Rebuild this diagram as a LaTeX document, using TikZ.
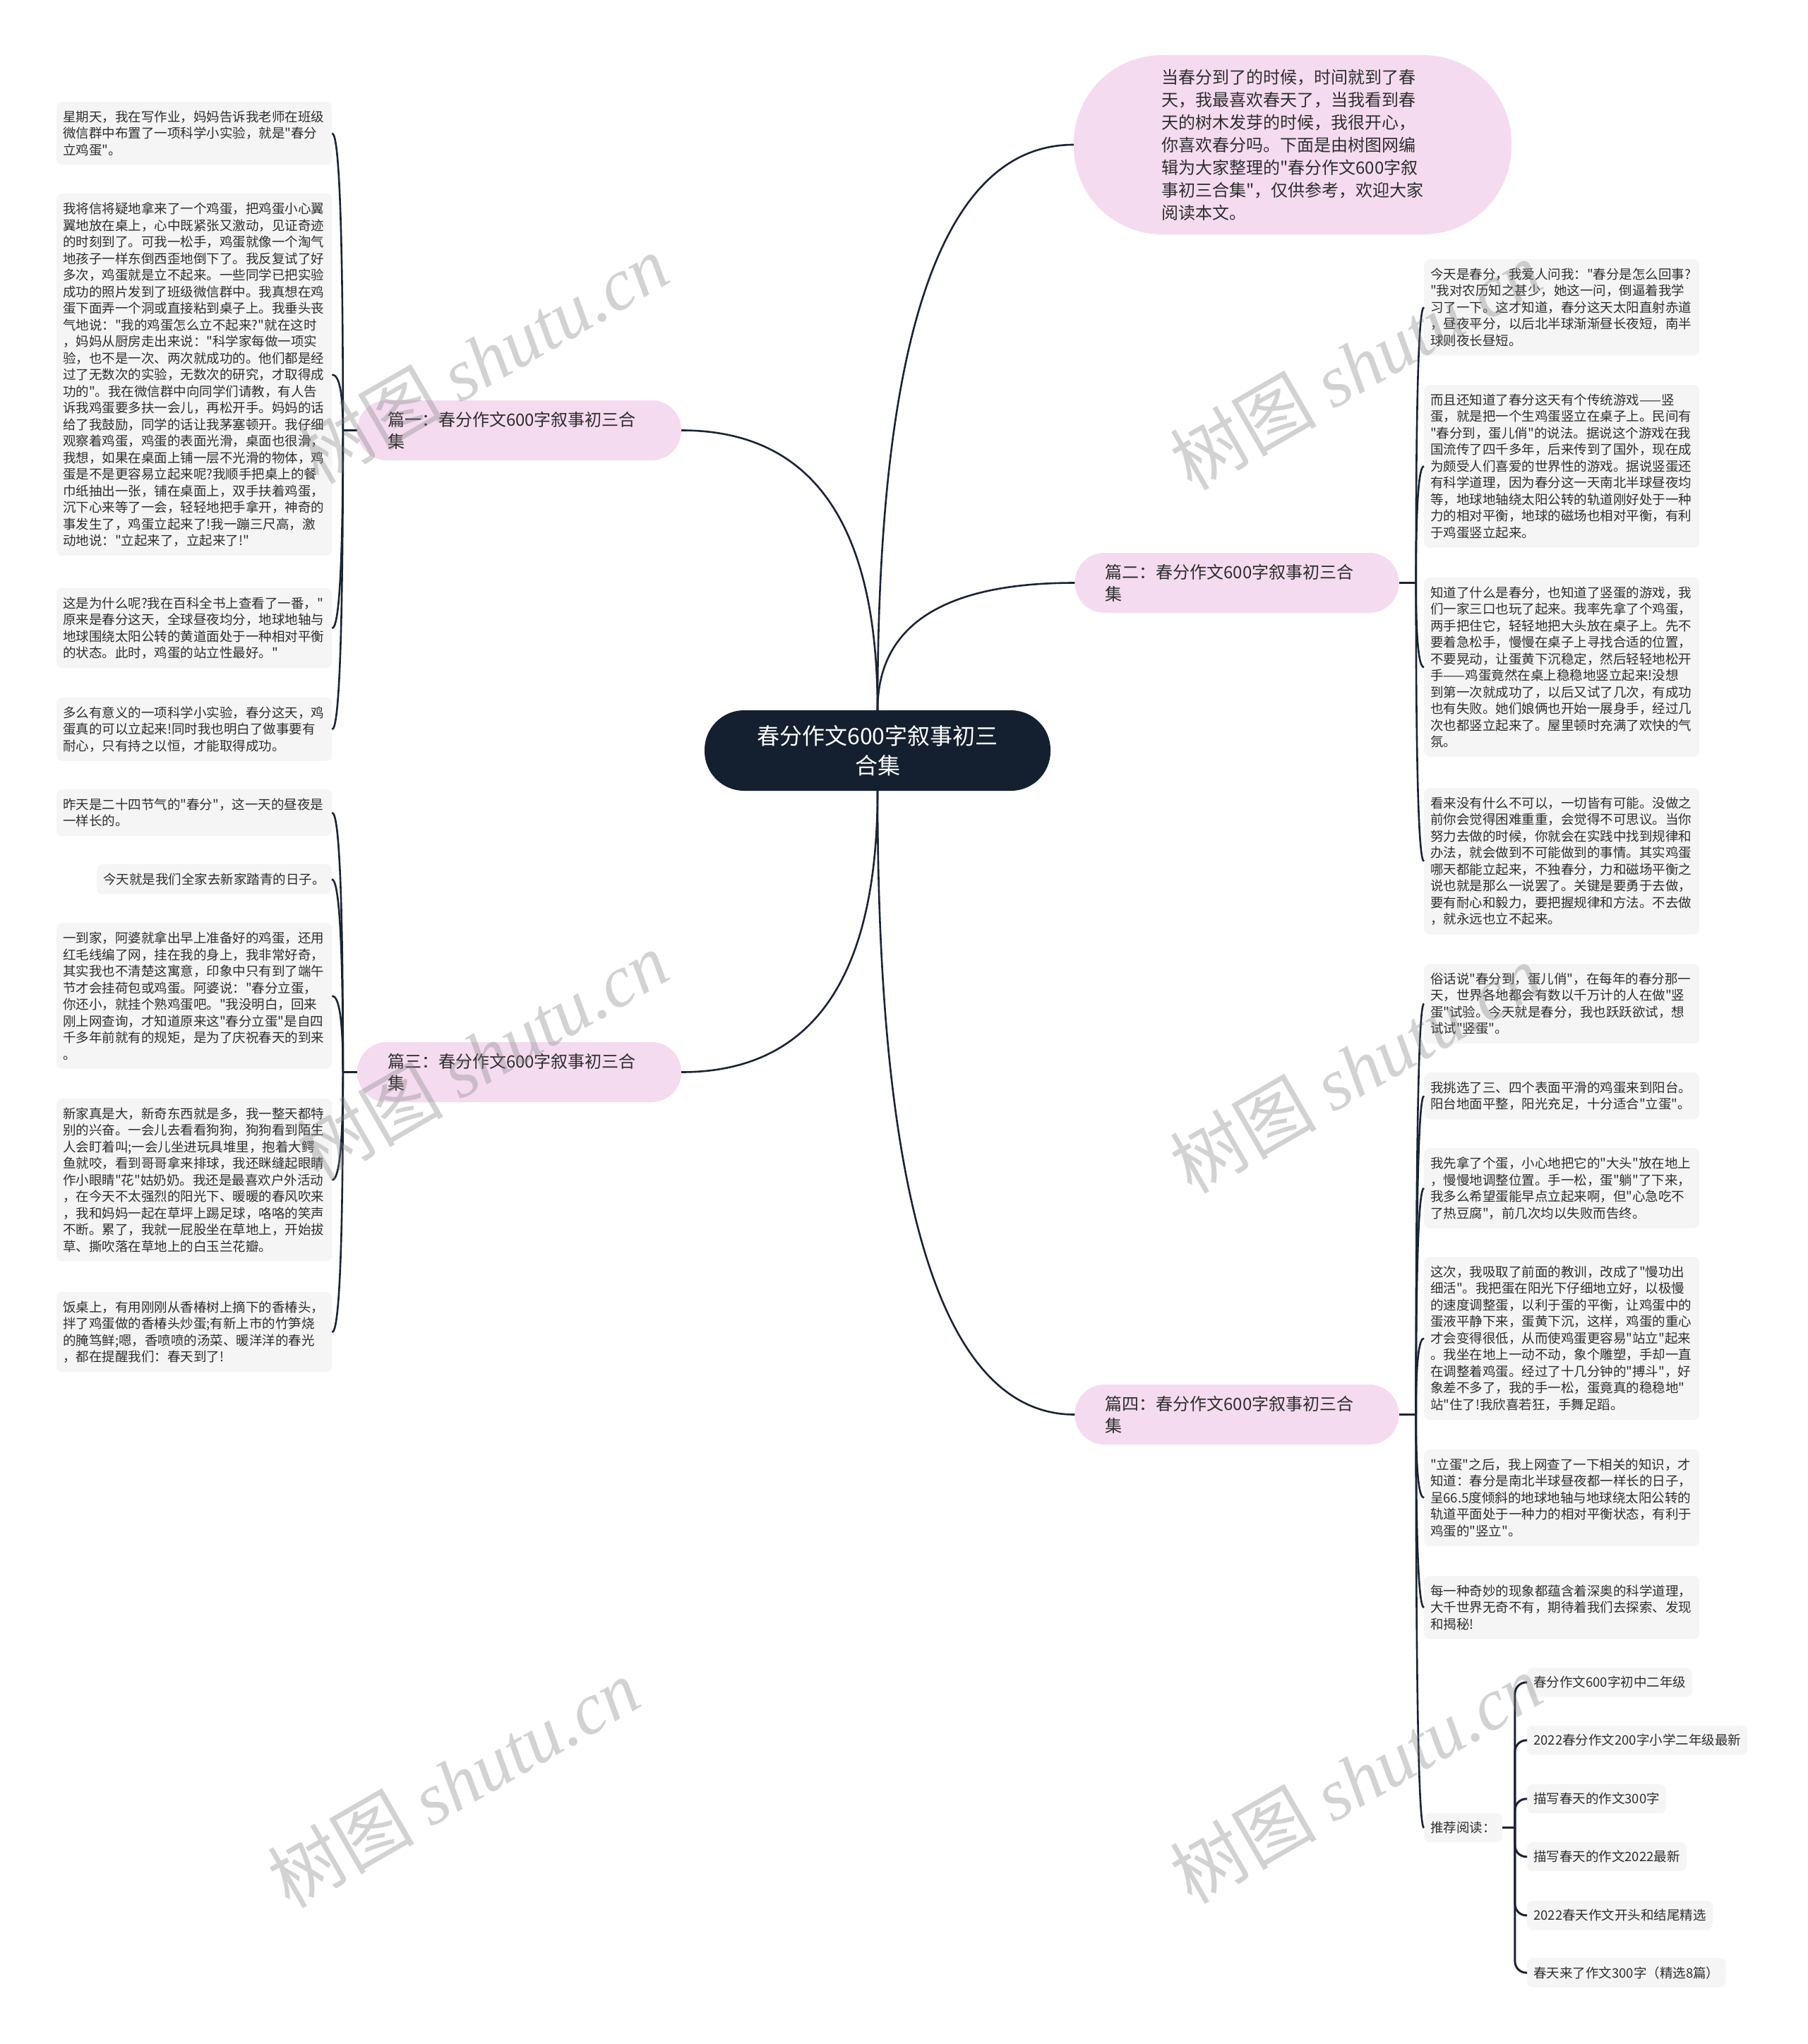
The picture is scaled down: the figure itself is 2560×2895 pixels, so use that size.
\documentclass[tikz,border=0pt]{standalone}
\usepackage{fontspec}
\newfontfamily\cjk{Noto Sans CJK SC}
\newfontfamily\wmlatin{Liberation Serif}
\usetikzlibrary{calc}
\definecolor{linec}{HTML}{1B2433}
\definecolor{pinkc}{HTML}{F5DBEF}
\definecolor{boxc}{HTML}{F5F5F5}
\definecolor{darkc}{HTML}{142030}
\definecolor{txtc}{HTML}{2E2E2E}
\newcommand\vcurve[2]{%
  \path (#1 |- #2) coordinate (vcK);
  \draw[conn] (#1) .. controls ($(#1)!0.6667!(vcK)$) and ($(#2)!0.6667!(vcK)$) .. (#2);
}
\tikzset{
  conn/.style={draw=linec, line width=2.6pt},
  leaf/.style={fill=boxc, rounded corners=8pt, text=txtc, font=\cjk\fontsize{18.5}{23.5}\selectfont, inner xsep=9pt, inner ysep=12.5pt, align=left},
  leafw/.style={leaf, text width=372pt, anchor=north west},
  subitem/.style={leaf, inner ysep=12pt, anchor=north west},
  branch/.style={fill=pinkc, rounded corners=42pt, text=txtc, font=\cjk\fontsize{24}{31}\selectfont, minimum height=85pt, text width=373pt, inner xsep=43pt, align=left},
  wm/.style={rotate=30, text=gray, opacity=0.35, font=\cjk\fontsize{104}{104}\selectfont, inner sep=0pt},
}
\begin{document}
\cjk
\begin{tikzpicture}[x=1pt,y=-1pt]
\useasboundingbox (0,0) rectangle (2560,2895);
\fill[white] (0,0) rectangle (2560,2895);

% center
\node[fill=darkc, text=white, rounded corners=56pt, minimum width=490pt, minimum height=114pt, align=center, font=\cjk\fontsize{32}{42}\selectfont] (c) at (1243,1063) {春分作文600字叙事初三\\合集};

% intro
\node[fill=pinkc, rounded corners=125pt, minimum width=620pt, minimum height=254pt, text width=372pt, inner xsep=124pt, align=left, text=txtc, font=\cjk\fontsize{24}{32}\selectfont] (intro) at (1831,205) {当春分到了的时候，时间就到了春\\
天，我最喜欢春天了，当我看到春\\
天的树木发芽的时候，我很开心，\\
你喜欢春分吗。下面是由树图网编\\
辑为大家整理的"春分作文600字叙\\
事初三合集"，仅供参考，欢迎大家\\
阅读本文。};

% branches
\node[branch] (b1) at (735.5,609.5) {篇一：春分作文600字叙事初三合\\集};
\node[branch] (b2) at (1752,825.5) {篇二：春分作文600字叙事初三合\\集};
\node[branch] (b3) at (735.5,1518.5) {篇三：春分作文600字叙事初三合\\集};
\node[branch] (b4) at (1752,2003.5) {篇四：春分作文600字叙事初三合\\集};

% left group 1
\node[leafw] (l1) at (80,144) {星期天，我在写作业，妈妈告诉我老师在班级\\
微信群中布置了一项科学小实验，就是"春分\\
立鸡蛋"。};
\node[leafw] (l2) at (80,274) {我将信将疑地拿来了一个鸡蛋，把鸡蛋小心翼\\
翼地放在桌上，心中既紧张又激动，见证奇迹\\
的时刻到了。可我一松手，鸡蛋就像一个淘气\\
地孩子一样东倒西歪地倒下了。我反复试了好\\
多次，鸡蛋就是立不起来。一些同学已把实验\\
成功的照片发到了班级微信群中。我真想在鸡\\
蛋下面弄一个洞或直接粘到桌子上。我垂头丧\\
气地说："我的鸡蛋怎么立不起来?"就在这时\\
，妈妈从厨房走出来说："科学家每做一项实\\
验，也不是一次、两次就成功的。他们都是经\\
过了无数次的实验，无数次的研究，才取得成\\
功的"。我在微信群中向同学们请教，有人告\\
诉我鸡蛋要多扶一会儿，再松开手。妈妈的话\\
给了我鼓励，同学的话让我茅塞顿开。我仔细\\
观察着鸡蛋，鸡蛋的表面光滑，桌面也很滑，\\
我想，如果在桌面上铺一层不光滑的物体，鸡\\
蛋是不是更容易立起来呢?我顺手把桌上的餐\\
巾纸抽出一张，铺在桌面上，双手扶着鸡蛋，\\
沉下心来等了一会，轻轻地把手拿开，神奇的\\
事发生了，鸡蛋立起来了!我一蹦三尺高，激\\
动地说："立起来了，立起来了!"};
\node[leafw] (l3) at (80,833) {这是为什么呢?我在百科全书上查看了一番，"\\
原来是春分这天，全球昼夜均分，地球地轴与\\
地球围绕太阳公转的黄道面处于一种相对平衡\\
的状态。此时，鸡蛋的站立性最好。"};
\node[leafw] (l4) at (80,988) {多么有意义的一项科学小实验，春分这天，鸡\\
蛋真的可以立起来!同时我也明白了做事要有\\
耐心，只有持之以恒，才能取得成功。};

% left group 3
\node[leafw] (m1) at (80,1118) {昨天是二十四节气的"春分"，这一天的昼夜是\\
一样长的。};
\node[leaf, anchor=north east] (m2) at (470,1224) {今天就是我们全家去新家踏青的日子。};
\node[leafw] (m3) at (80,1307) {一到家，阿婆就拿出早上准备好的鸡蛋，还用\\
红毛线编了网，挂在我的身上，我非常好奇，\\
其实我也不清楚这寓意，印象中只有到了端午\\
节才会挂荷包或鸡蛋。阿婆说："春分立蛋，\\
你还小，就挂个熟鸡蛋吧。"我没明白，回来\\
刚上网查询，才知道原来这"春分立蛋"是自四\\
千多年前就有的规矩，是为了庆祝春天的到来\\
。};
\node[leafw] (m4) at (80,1556) {新家真是大，新奇东西就是多，我一整天都特\\
别的兴奋。一会儿去看看狗狗，狗狗看到陌生\\
人会盯着叫;一会儿坐进玩具堆里，抱着大鳄\\
鱼就咬，看到哥哥拿来排球，我还眯缝起眼睛\\
作小眼睛"花"姑奶奶。我还是最喜欢户外活动\\
，在今天不太强烈的阳光下、暖暖的春风吹来\\
，我和妈妈一起在草坪上踢足球，咯咯的笑声\\
不断。累了，我就一屁股坐在草地上，开始拔\\
草、撕吹落在草地上的白玉兰花瓣。};
\node[leafw] (m5) at (80,1830) {饭桌上，有用刚刚从香椿树上摘下的香椿头，\\
拌了鸡蛋做的香椿头炒蛋;有新上市的竹笋烧\\
的腌笃鲜;嗯，香喷喷的汤菜、暖洋洋的春光\\
，都在提醒我们：春天到了!};

% right group 2
\node[leafw] (r1) at (2017,367) {今天是春分，我爱人问我："春分是怎么回事?\\
"我对农历知之甚少，她这一问，倒逼着我学\\
习了一下。这才知道，春分这天太阳直射赤道\\
，昼夜平分，以后北半球渐渐昼长夜短，南半\\
球则夜长昼短。};
\node[leafw] (r2) at (2017,545) {而且还知道了春分这天有个传统游戏——竖\\
蛋，就是把一个生鸡蛋竖立在桌子上。民间有\\
"春分到，蛋儿俏"的说法。据说这个游戏在我\\
国流传了四千多年，后来传到了国外，现在成\\
为颇受人们喜爱的世界性的游戏。据说竖蛋还\\
有科学道理，因为春分这一天南北半球昼夜均\\
等，地球地轴绕太阳公转的轨道刚好处于一种\\
力的相对平衡，地球的磁场也相对平衡，有利\\
于鸡蛋竖立起来。};
\node[leafw] (r3) at (2017,818) {知道了什么是春分，也知道了竖蛋的游戏，我\\
们一家三口也玩了起来。我率先拿了个鸡蛋，\\
两手把住它，轻轻地把大头放在桌子上。先不\\
要着急松手，慢慢在桌子上寻找合适的位置，\\
不要晃动，让蛋黄下沉稳定，然后轻轻地松开\\
手——鸡蛋竟然在桌上稳稳地竖立起来!没想\\
到第一次就成功了，以后又试了几次，有成功\\
也有失败。她们娘俩也开始一展身手，经过几\\
次也都竖立起来了。屋里顿时充满了欢快的气\\
氛。};
\node[leafw] (r4) at (2017,1116) {看来没有什么不可以，一切皆有可能。没做之\\
前你会觉得困难重重，会觉得不可思议。当你\\
努力去做的时候，你就会在实践中找到规律和\\
办法，就会做到不可能做到的事情。其实鸡蛋\\
哪天都能立起来，不独春分，力和磁场平衡之\\
说也就是那么一说罢了。关键是要勇于去做，\\
要有耐心和毅力，要把握规律和方法。不去做\\
，就永远也立不起来。};

% right group 4
\node[leafw] (r5) at (2017,1365) {俗话说"春分到，蛋儿俏"，在每年的春分那一\\
天，世界各地都会有数以千万计的人在做"竖\\
蛋"试验。今天就是春分，我也跃跃欲试，想\\
试试"竖蛋"。};
\node[leafw] (r6) at (2017,1519) {我挑选了三、四个表面平滑的鸡蛋来到阳台。\\
阳台地面平整，阳光充足，十分适合"立蛋"。};
\node[leafw] (r7) at (2017,1626) {我先拿了个蛋，小心地把它的"大头"放在地上\\
，慢慢地调整位置。手一松，蛋"躺"了下来，\\
我多么希望蛋能早点立起来啊，但"心急吃不\\
了热豆腐"，前几次均以失败而告终。};
\node[leafw] (r8) at (2017,1780) {这次，我吸取了前面的教训，改成了"慢功出\\
细活"。我把蛋在阳光下仔细地立好，以极慢\\
的速度调整蛋，以利于蛋的平衡，让鸡蛋中的\\
蛋液平静下来，蛋黄下沉，这样，鸡蛋的重心\\
才会变得很低，从而使鸡蛋更容易"站立"起来\\
。我坐在地上一动不动，象个雕塑，手却一直\\
在调整着鸡蛋。经过了十几分钟的"搏斗"，好\\
象差不多了，我的手一松，蛋竟真的稳稳地"\\
站"住了!我欣喜若狂，手舞足蹈。};
\node[leafw] (r9) at (2017,2053) {"立蛋"之后，我上网查了一下相关的知识，才\\
知道：春分是南北半球昼夜都一样长的日子，\\
呈66.5度倾斜的地球地轴与地球绕太阳公转的\\
轨道平面处于一种力的相对平衡状态，有利于\\
鸡蛋的"竖立"。};
\node[leafw] (r10) at (2017,2232) {每一种奇妙的现象都蕴含着深奥的科学道理，\\
大千世界无奇不有，期待着我们去探索、发现\\
和揭秘!};
\node[subitem] (tj) at (2017,2568) {推荐阅读：};
\node[subitem] (s1i) at (2163,2362) {春分作文600字初中二年级};
\node[subitem] (s2i) at (2163,2444) {2022春分作文200字小学二年级最新};
\node[subitem] (s3i) at (2163,2527) {描写春天的作文300字};
\node[subitem] (s4i) at (2163,2609) {描写春天的作文2022最新};
\node[subitem] (s5i) at (2163,2692) {2022春天作文开头和结尾精选};
\node[subitem] (s6i) at (2163,2773) {春天来了作文300字（精选8篇）};

% main connectors
\vcurve{c.north}{intro.west}
\vcurve{c.north}{b1.east}
\vcurve{c.north}{b2.west}
\vcurve{c.south}{b3.east}
\vcurve{c.south}{b4.west}

% branch spines
\coordinate (sp1) at ([xshift=-20pt]b1.west);
\coordinate (sp2) at ([xshift=24pt]b2.east);
\coordinate (sp3) at ([xshift=-20pt]b3.west);
\coordinate (sp4) at ([xshift=24pt]b4.east);
\draw[conn] (b1.west) -- (sp1);
\draw[conn] (b2.east) -- (sp2);
\draw[conn] (b3.west) -- (sp3);
\draw[conn] (b4.east) -- (sp4);
\foreach \n in {l1,l2,l3,l4} {\vcurve{sp1}{\n.east}}
\foreach \n in {r1,r2,r3,r4} {\vcurve{sp2}{\n.west}}
\foreach \n in {m1,m2,m3,m4,m5} {\vcurve{sp3}{\n.east}}
\foreach \n in {r5,r6,r7,r8,r9,r10,tj} {\vcurve{sp4}{\n.west}}

% recommended reading
\coordinate (tjs) at ([xshift=18pt]tj.east);
\draw[conn, line width=3pt] (tj.east) -- (tjs);
\foreach \n in {s1i,s2i,s3i,s4i,s5i,s6i} {\draw[conn, line width=3pt, rounded corners=16pt] (tjs) |- (\n.west);}

% watermarks
\node[wm] (wm1) at (683,508) {树图 {\wmlatin\itshape shutu.cn}};
\node[wm] (wm2) at (1920,517) {树图 {\wmlatin\itshape shutu.cn}};
\node[wm] (wm3) at (683,1495) {树图 {\wmlatin\itshape shutu.cn}};
\node[wm] (wm4) at (1920,1513) {树图 {\wmlatin\itshape shutu.cn}};
\node[wm] (wm5) at (642,2525) {树图 {\wmlatin\itshape shutu.cn}};
\node[wm] (wm6) at (1920,2519) {树图 {\wmlatin\itshape shutu.cn}};
\end{tikzpicture}
\end{document}
